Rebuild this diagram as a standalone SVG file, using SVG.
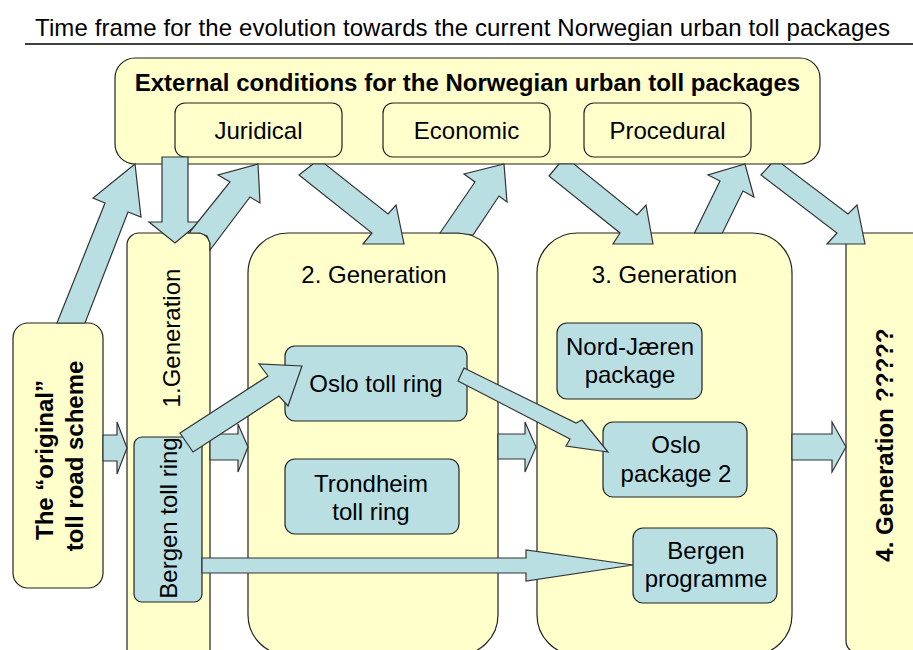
<svg xmlns="http://www.w3.org/2000/svg" width="913" height="650" viewBox="0 0 913 650">
<style>
.y{fill:#ffffcc;stroke:#222;stroke-width:1.2}
.b{fill:#b9dfe3;stroke:#222;stroke-width:1.2}
.a{fill:#b9dfe3;stroke:#333;stroke-width:1.2;stroke-linejoin:miter}
.t{font-family:"Liberation Sans",Arial,sans-serif;font-size:24px;fill:#000}
.c{text-anchor:middle}
.bd{font-weight:bold}
</style>
<rect width="913" height="650" fill="#fff"/>
<g id="title">
<text class="t" x="35" y="36" textLength="855">Time frame for the evolution towards the current Norwegian urban toll packages</text>
<line x1="25" y1="44" x2="913" y2="44" stroke="#000" stroke-width="1.5"/>
</g>
<g id="external">
<rect class="y" x="115" y="58" width="705" height="106" rx="20"/>
<text class="t c bd" x="467.5" y="91">External conditions for the Norwegian urban toll packages</text>
</g>
<g id="juridical"><rect class="y" x="175" y="103" width="167" height="54" rx="10"/><text class="t c" x="258.5" y="139">Juridical</text></g>
<g id="economic"><rect class="y" x="383" y="103" width="167" height="54" rx="10"/><text class="t c" x="466.5" y="139">Economic</text></g>
<g id="procedural"><rect class="y" x="584" y="103" width="167" height="54" rx="10"/><text class="t c" x="667.5" y="139">Procedural</text></g>
<g id="gen1"><rect class="y" x="127" y="233" width="83" height="430" rx="12"/><text class="t c" transform="translate(180,338) rotate(-90)">1.Generation</text></g>
<g id="gen2"><rect class="y" x="248" y="233" width="250" height="422" rx="40"/><text class="t c" x="374" y="283">2. Generation</text></g>
<g id="gen3"><rect class="y" x="537" y="233" width="255" height="422" rx="40"/><text class="t c" x="664.5" y="283">3. Generation</text></g>
<g id="gen4"><rect class="y" x="846" y="233" width="80" height="420" rx="12"/><text class="t c bd" transform="translate(893,445) rotate(-90)">4. Generation ?????</text></g>
<g id="original"><rect class="y" x="13" y="323" width="90" height="265" rx="15"/>
<text class="t c bd" transform="translate(53,460) rotate(-90)">The “original”</text>
<text class="t c bd" transform="translate(83,456) rotate(-90)">toll road scheme</text></g>
<g id="bergen-ring"><rect class="b" x="134" y="437" width="68" height="165" rx="8"/><text class="t c" transform="translate(177,518) rotate(-90)">Bergen toll ring</text></g>
<g id="oslo-ring"><rect class="b" x="285" y="346" width="182" height="75" rx="10"/><text class="t c" x="376" y="392">Oslo toll ring</text></g>
<g id="trondheim"><rect class="b" x="285" y="459" width="174" height="75" rx="10"/><text class="t c" x="371" y="492">Trondheim</text><text class="t c" x="371" y="520">toll ring</text></g>
<g id="nord-jaeren"><rect class="b" x="557" y="323" width="145" height="76" rx="10"/><text class="t c" x="630" y="355">Nord-Jæren</text><text class="t c" x="630" y="383">package</text></g>
<g id="oslo-pkg2"><rect class="b" x="603" y="422" width="144" height="75" rx="10"/><text class="t c" x="676" y="453">Oslo</text><text class="t c" x="676" y="482">package 2</text></g>
<g id="bergen-prog"><rect class="b" x="633" y="528" width="144" height="75" rx="10"/><text class="t c" x="706" y="559">Bergen</text><text class="t c" x="706" y="587">programme</text></g>
<g id="connectors">
<polygon class="a" points="57,323 105,203 93,198 135,164 141,217 128,212 85,323"/>
<polygon class="a" points="162,157 188,157 188,222 200,222 175,243 149,222 162,222"/>
<polygon class="a" points="189,233 230,182 218,175 258,164 260,203 250,197 210,250 210,243 207,236 200,233"/>
<polygon class="a" points="313,164 299,175 372,233 363,244 404,244 396,205 388,214 325,164"/>
<polygon class="a" points="440,233 475,182 464,174 504,164 507,202 499,196 473,235 458,233"/>
<polygon class="a" points="559,164 549,176 620,233 613,244 653,244 646,205 637,215 574,164"/>
<polygon class="a" points="694.5,233 720,181 708,175 745,164 754,197 743,191 722.4,233"/>
<polygon class="a" points="771,164 761,175 837,233 827,244 865,244 857,205 848,214 782,164"/>
<polygon class="a" points="103,435 117,435 117,422 127,448 117,474 117,461 103,461"/>
<polygon class="a" points="210,434 238,434 238,424 248,447 238,472 238,460 210,460"/>
<polygon class="a" points="498,434 525,434 525,422 536,447 525,472 525,459 498,459"/>
<polygon class="a" points="792,434 832,434 832,422 846,447 832,472 832,460 792,460"/>
<polygon class="a" points="180,433 268,376 259,364 302,366 288,406 279,396 193,452"/>
<polygon class="a" points="464,368 576,423 582,420 608,452 566,446 570,439 458,381"/>
<polygon class="a" points="202,558 526,558 526,550 633,565 526,581 526,573 202,573"/>
</g>
</svg>
